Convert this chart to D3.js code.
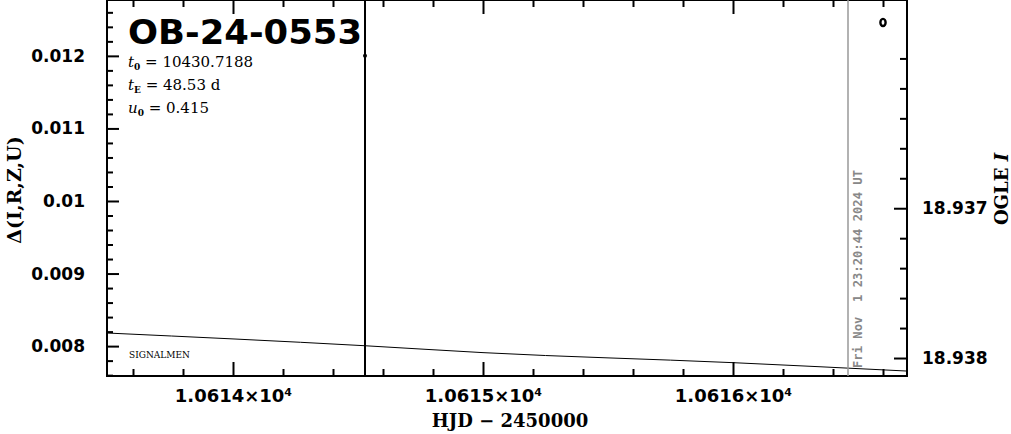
<!DOCTYPE html>
<html>
<head>
<meta charset="utf-8">
<script src="https://cdn.jsdelivr.net/npm/d3@7"></script>
<style>
  html, body { margin: 0; padding: 0; background: #fff; }
  svg { display: block; }
  .tick text { font-family: "DejaVu Sans", sans-serif; font-weight: bold; }
</style>
</head>
<body>
<svg id="chart" width="1011" height="434"></svg>
<script>
// ---- data ----
const eventName = "OB-24-0553";
const paramLabels = [
  { sym: "t", sub: "0", val: " = 10430.7188" },
  { sym: "t", sub: "E", val: " = 48.53 d" },
  { sym: "u", sub: "0", val: " = 0.415" }
];
const xDomain = [10613.496, 10616.696];
const yLeftDomain = [0.007588, 0.01277];
const yRightDomain = [18.93812, 18.93561];
const xMajorTicks = [10614, 10615, 10616];
const xTickLabels = ["1.0614×10⁴", "1.0615×10⁴", "1.0616×10⁴"];
const yLeftMajorTicks = [0.008, 0.009, 0.010, 0.011, 0.012];
const yLeftTickLabels = ["0.008", "0.009", "0.01", "0.011", "0.012"];
const yRightMajorTicks = [18.937, 18.938];
const yRightTickLabels = ["18.937", "18.938"];
// model curve (OGLE I mag vs HJD-2450000)
const modelTimes = [10613.496, 10614.528, 10615.0, 10616.0, 10616.696];
const modelMags  = [18.937833, 18.937918, 18.937964, 18.938031, 18.938087];
// data points
const deltaTimes = [10614.528];
const deltaValues = [0.012];
const ogleTimes = [10616.6];
const ogleMags = [18.93576];
const nowTime = 10616.46;
const nowLabel = "Fri Nov  1 23:20:44 2024 UT";

// ---- layout ----
const L = 107, R = 907, T = 0, B = 376;
const svg = d3.select("#chart");

const x = d3.scaleLinear().domain(xDomain).range([L, R]);
const yL = d3.scaleLinear().domain(yLeftDomain).range([B, T]);
const yR = d3.scaleLinear().domain(yRightDomain).range([B, T]);

function range(a, b, s) { const out = []; for (let v = a; v <= b + s * 1e-6; v += s) out.push(+v.toFixed(6)); return out; }
const xMinor = range(10613.6, 10616.6, 0.2).filter(v => !xMajorTicks.some(m => Math.abs(m - v) < 1e-6));
const yLMinor = range(0.0076, 0.0128, 0.0002).filter(v => !yLeftMajorTicks.some(m => Math.abs(m - v) < 1e-9));
const yRMinor = range(18.9360, 18.9380, 0.0002).filter(v => !yRightMajorTicks.some(m => Math.abs(m - v) < 1e-9));

const black = "#000";

// ---- axes ----
function styleAxis(g) {
  g.select(".domain").remove();
  g.selectAll(".tick line").attr("stroke", black).attr("stroke-width", 2);
}
// bottom major
svg.append("g").attr("transform", `translate(0,${B})`)
  .call(d3.axisBottom(x).tickValues(xMajorTicks).tickSize(-14).tickPadding(22)
    .tickFormat((d, i) => xTickLabels[i]))
  .call(styleAxis)
  .selectAll("text").attr("font-size", 18).attr("fill", black).attr("dy", "0.2em");
svg.append("g").attr("transform", `translate(0,${B})`)
  .call(d3.axisBottom(x).tickValues(xMinor).tickSize(-7).tickFormat(""))
  .call(styleAxis);
// top
svg.append("g").attr("transform", `translate(0,${T})`)
  .call(d3.axisTop(x).tickValues(xMajorTicks).tickSize(-14).tickFormat(""))
  .call(styleAxis);
svg.append("g").attr("transform", `translate(0,${T})`)
  .call(d3.axisTop(x).tickValues(xMinor).tickSize(-7).tickFormat(""))
  .call(styleAxis);
// left
svg.append("g").attr("transform", `translate(${L},0)`)
  .call(d3.axisLeft(yL).tickValues(yLeftMajorTicks).tickSize(-12).tickPadding(22)
    .tickFormat((d, i) => yLeftTickLabels[i]))
  .call(styleAxis)
  .selectAll("text").attr("font-size", 17).attr("fill", black);
svg.append("g").attr("transform", `translate(${L},0)`)
  .call(d3.axisLeft(yL).tickValues(yLMinor).tickSize(-6).tickFormat(""))
  .call(styleAxis);
// right
svg.append("g").attr("transform", `translate(${R},0)`)
  .call(d3.axisRight(yR).tickValues(yRightMajorTicks).tickSize(-13).tickPadding(15)
    .tickFormat((d, i) => yRightTickLabels[i]))
  .call(styleAxis)
  .selectAll("text").attr("font-size", 17).attr("fill", black);
svg.append("g").attr("transform", `translate(${R},0)`)
  .call(d3.axisRight(yR).tickValues(yRMinor).tickSize(-7).tickFormat(""))
  .call(styleAxis);

// frame
svg.append("rect").attr("x", L).attr("y", T).attr("width", R - L).attr("height", B - T)
  .attr("fill", "none").attr("stroke", black).attr("stroke-width", 2);

// ---- marks ----
svg.append("clipPath").attr("id", "clip").append("rect")
  .attr("x", L).attr("y", T).attr("width", R - L).attr("height", B - T);
const plot = svg.append("g").attr("clip-path", "url(#clip)");

// model line
const modelData = modelTimes.map((t, i) => [t, modelMags[i]]);
plot.append("path").datum(modelData)
  .attr("d", d3.line().curve(d3.curveMonotoneX).x(d => x(d[0])).y(d => yR(d[1])))
  .attr("fill", "none").attr("stroke", black).attr("stroke-width", 1);

// now line (grey)
plot.append("line").attr("x1", x(nowTime)).attr("x2", x(nowTime)).attr("y1", T).attr("y2", B)
  .attr("stroke", "#999").attr("stroke-width", 1.5);
svg.append("text")
  .attr("transform", `translate(${x(nowTime) + 14},${B - 8}) rotate(-90)`)
  .attr("font-family", "DejaVu Sans Mono, monospace").attr("font-weight", "bold")
  .attr("font-size", 12).attr("fill", "#888")
  .attr("textLength", 198).attr("lengthAdjust", "spacingAndGlyphs")
  .attr("xml:space", "preserve")
  .style("white-space", "pre")
  .text(nowLabel);

// delta data: vertical line + point
deltaTimes.forEach((t, i) => {
  plot.append("line").attr("x1", x(t)).attr("x2", x(t)).attr("y1", T).attr("y2", B)
    .attr("stroke", black).attr("stroke-width", 2);
  plot.append("circle").attr("cx", x(t)).attr("cy", yL(deltaValues[i])).attr("r", 2).attr("fill", black);
});

// OGLE points
ogleTimes.forEach((t, i) => {
  plot.append("ellipse").attr("cx", x(t)).attr("cy", yR(ogleMags[i]))
    .attr("rx", 2.6).attr("ry", 3.6).attr("fill", "none").attr("stroke", black).attr("stroke-width", 2.4);
});

// ---- texts ----
svg.append("text").attr("x", 128).attr("y", 44)
  .attr("font-family", "DejaVu Sans, sans-serif").attr("font-weight", "bold")
  .attr("font-size", 33).attr("textLength", 234).attr("lengthAdjust", "spacingAndGlyphs")
  .attr("fill", black).text(eventName);

paramLabels.forEach((p, i) => {
  const t = svg.append("text").attr("x", 128).attr("y", 67 + i * 23)
    .attr("font-family", "DejaVu Serif, serif").attr("font-size", 15).attr("fill", black);
  t.append("tspan").attr("font-style", "italic").text(p.sym);
  t.append("tspan").attr("font-size", 9).attr("dy", 3).attr("font-weight", "bold").text(p.sub);
  t.append("tspan").attr("dy", -3).text(p.val);
});

svg.append("text").attr("x", 129).attr("y", 358)
  .attr("font-family", "DejaVu Serif, serif").attr("font-size", 9).attr("fill", black)
  .text("SIGNALMEN");

// axis titles
svg.append("text").attr("transform", "translate(21,190) rotate(-90)")
  .attr("text-anchor", "middle").attr("font-family", "DejaVu Serif, serif")
  .attr("font-weight", "bold").attr("font-size", 19).attr("fill", black)
  .text("Δ(I,R,Z,U)");

const rt = svg.append("text").attr("transform", "translate(1008,189) rotate(-90)")
  .attr("text-anchor", "middle").attr("font-family", "DejaVu Serif, serif")
  .attr("font-weight", "bold").attr("font-size", 18).attr("fill", black);
rt.append("tspan").text("OGLE ");
rt.append("tspan").attr("font-style", "italic").text("I");

svg.append("text").attr("x", 510).attr("y", 427)
  .attr("text-anchor", "middle").attr("font-family", "DejaVu Serif, serif")
  .attr("font-weight", "bold").attr("font-size", 18).attr("fill", black)
  .text("HJD − 2450000");
</script>
</body>
</html>
